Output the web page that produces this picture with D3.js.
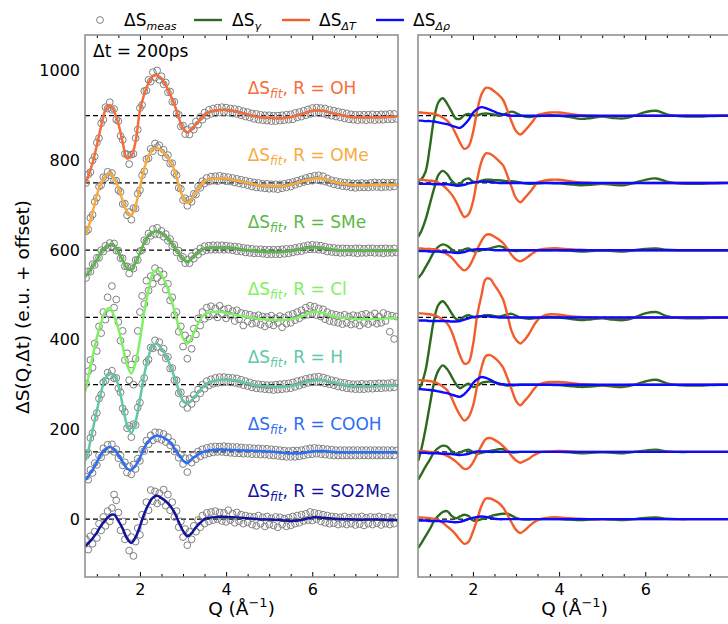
<!DOCTYPE html>
<html>
<head>
<meta charset="utf-8">
<script src="https://cdn.jsdelivr.net/npm/d3@7"></script>
<style>
  body { margin: 0; background: #fff; }
  text { font-family: "DejaVu Sans", sans-serif; }
</style>
</head>
<body>
<svg id="chart" width="728" height="624"></svg>
<script>
// ---- data (relative to each curve's offset) ----
const samples = ['OH', 'OMe', 'SMe', 'Cl', 'H', 'COOH', 'SO2Me'];
const offsets = [900, 750, 600, 450, 300, 150, 0];
const xTicks = [2, 4, 6];
const xMinorTicks = [1, 1.5, 2.5, 3, 3.5, 4.5, 5, 5.5, 6.5, 7, 7.5];
const yTicks = [0, 200, 400, 600, 800, 1000];

// Q grid of the fitted / component curves
const fitQ = [0.73, 0.8, 0.9, 1.0, 1.1, 1.2, 1.3, 1.4, 1.5, 1.6, 1.7, 1.8, 1.9, 2.0, 2.1, 2.2, 2.3, 2.4, 2.5, 2.6,
  2.7, 2.8, 2.9, 3.0, 3.1, 3.2, 3.3, 3.4, 3.5, 3.6, 3.8, 4.0, 4.25, 4.5, 4.75, 5.0, 5.25, 5.5, 5.75, 6.0,
  6.25, 6.5, 6.75, 7.0, 7.25, 7.5, 7.75, 7.97];

const fitOH = [-152, -135, -106, -66, -23, 13, 24, 10, -18, -60, -95, -90, -57, 11, 48, 73, 88, 90, 82, 68,
  48, 25, -4, -28, -37, -30, -19, -8, 2, 8, 12, 13, 9, 3, -3, -5, -6, -3, 3, 11, 11, 5, 0, -4, -4, -4, -3, -2];
const fitOMe = [-116, -100, -66, -27, 0, 15, 22, 10, -10, -40, -64, -73, -50, -10, 32, 60, 75, 78, 72, 63,
  48, 28, -5, -32, -45, -36, -21, -6, 4, 8, 10, 10, 5, 0, -5, -7, -8, -4, 3, 9, 10, 2, -2, -5, -5, -4, -4, -4];
const fitSMe = [-60, -51, -36, -22, -4, 6, 12, 11, -5, -22, -40, -43, -27, -7, 17, 32, 40, 42, 38, 31,
  20, 7, -6, -20, -26, -18, -9, -1, 4, 5, 6, 6, 3, 0, -2, -4, -4, -2, 2, 7, 5, 1, -1, -1, -1, -1, -1, -1];
const fitCl = [-165, -135, -88, -45, -12, 14, 21, 3, -25, -65, -105, -125, -100, -50, 12, 62, 98, 106, 95, 76,
  48, 15, -20, -46, -58, -45, -24, -5, 7, 11, 13, 10, 5, 1, -3, -5, -6, -4, 2, 12, 10, 2, -1, -3, -4, -3, -2, -1];
const fitH = [-170, -148, -102, -58, -16, 14, 25, 20, -2, -46, -90, -108, -82, -33, 22, 63, 88, 91, 80, 66,
  43, 17, -12, -36, -43, -35, -24, -12, -2, 4, 10, 11, 9, 3, -2, -4, -5, -3, 2, 9, 10, 5, 0, -3, -4, -3, -2, -1];
const fitCOOH = [-62, -54, -40, -23, -5, 6, 11, 6, -7, -22, -37, -40, -30, -13, 9, 24, 33, 36, 34, 29,
  22, 8, -6, -19, -25, -16, -9, -3, 1, 3, 5, 5, 4, 3, 2, 1, -1, -3, -3, 1, 2, 0, -1, -1, -1, -1, -1, -1];
const fitSO2Me = [-60, -54, -43, -30, -14, -2, 8, 10, -4, -21, -43, -53, -40, -16, 12, 33, 48, 52, 47, 40,
  30, 15, -6, -26, -38, -31, -18, -8, 0, 3, 5, 5, 4, 2, 0, -1, -2, -4, -2, 4, 3, 1, 0, -1, -1, -1, -2, -2];

// gamma (solvent heating, green), delta T (orange), delta rho (blue)
const gamOH = [-146, -142, -125, -70, -5, 30, 39, 27, 10, -6, -7, 1, 4, 1, 1, 4, 5, 4, 2, 0,
  2, 6, 9, 6, 1, -2, -3, -2, -1, 0, 1, 0, -3, -7, -5, -2, -5, -6, 0, 8, 11, 3, -1, -2, -2, -1, 0, 0];
const dtOH = [7, 7, 6, 5, 4, 1, -4, -11, -22, -40, -60, -74, -68, -38, 12, 48, 62, 61, 54, 46,
  35, 12, -14, -34, -42, -34, -23, -11, 1, 4, 7, 7, 4, 1, 0, -1, -1, -1, 0, 0, 0, 0, 0, 0, 0, 0, 0, 0];
const drOH = [-11, -11, -12, -12, -13, -15, -17, -19, -22, -25, -27, -20, -9, 6, 15, 19, 17, 13, 9, 5,
  3, 1, 0, 0, 0, 0, 0, 0, 0, 0, 0, 0, 0, 0, 0, 0, 0, 0, 0, 0, 0, 0, 0, 0, 0, 0, 0, 0];

const gamOMe = [-120, -108, -82, -47, -12, 18, 27, 20, 6, -3, -2, 7, 10, 3, 2, 5, 7, 7, 6, 6,
  5, 4, 4, 3, 1, -1, -2, -2, -1, 0, 0, -1, -3, -5, -4, -2, -4, -5, 0, 7, 10, 3, -1, -2, -2, -1, 0, 0];
const dtOMe = [7, 7, 6, 5, 4, 1, -5, -14, -25, -40, -60, -76, -70, -42, 8, 48, 66, 65, 58, 49,
  39, 16, -10, -34, -43, -34, -23, -11, 1, 4, 7, 7, 4, 1, 0, -1, -1, -1, 0, 0, 0, 0, 0, 0, 0, 0, 0, 0];
const drOMe = [-2, -2, -2, -2, -3, -3, -3, -3, -4, -6, -6, -4, -1, 1, 2, 3, 3, 2, 1, 0,
  0, 0, 0, 0, 0, 0, 0, 0, 0, 0, 0, 0, 0, 0, 0, 0, 0, 0, 0, 0, 0, 0, 0, 0, 0, 0, 0, 0];

const gamSMe = [-62, -54, -38, -21, -3, 8, 13, 10, 2, -4, -3, 2, 4, -2, -2, 0, 2, 4, 7, 9,
  7, 2, -1, -2, -1, -1, 0, 0, 0, 0, 0, 0, -1, -3, -2, -1, -2, -3, 0, 3, 4, 1, 0, 0, 0, 0, 0, 0];
const dtSMe = [4, 4, 3, 3, 2, 0, -4, -9, -16, -27, -38, -45, -38, -20, 2, 21, 34, 35, 30, 24,
  16, 3, -11, -21, -25, -20, -13, -6, 0, 2, 4, 4, 2, 1, 0, 0, 0, 0, 0, 0, 0, 0, 0, 0, 0, 0, 0, 0];
const drSMe = [-2, -2, -2, -3, -3, -3, -4, -4, -5, -6, -6, -4, -1, 1, 2, 2, 2, 1, 0, 0,
  0, 0, 0, 0, 0, 0, 0, 0, 0, 0, 0, 0, 0, 0, 0, 0, 0, 0, 0, 0, 0, 0, 0, 0, 0, 0, 0, 0];

const gamCl = [-162, -150, -118, -60, -3, 28, 36, 26, 10, -3, -5, 2, 5, 1, 0, 3, 5, 5, 3, 2,
  4, 7, 8, 4, 0, -2, -3, -2, -1, 0, 1, 0, -3, -6, -4, -2, -5, -6, 0, 9, 12, 3, -1, -2, -2, -1, 0, 0];
const dtCl = [9, 9, 8, 7, 5, 1, -5, -13, -30, -57, -85, -103, -100, -62, 5, 50, 86, 86, 72, 58,
  40, 6, -31, -50, -58, -50, -37, -20, -6, 2, 7, 6, 3, 1, 0, -1, -1, -1, 0, 0, 0, 0, 0, 0, 0, 0, 0, 0];
const drCl = [-7, -7, -7, -8, -8, -8, -8, -8, -9, -9, -8, -5, -2, 1, 2, 3, 3, 2, 1, 0,
  0, 0, 0, 0, 0, 0, 0, 0, 0, 0, 0, 0, 0, 0, 0, 0, 0, 0, 0, 0, 0, 0, 0, 0, 0, 0, 0, 0];

const gamH = [-170, -145, -99, -45, 5, 32, 43, 35, 19, 2, -8, -2, 2, -5, -3, 4, 6, 7, 5, 2,
  0, -2, -2, -1, 0, 0, 0, 0, 0, 0, 0, -1, -3, -5, -4, -2, -4, -5, 0, 7, 11, 3, -1, -2, -2, -1, 0, 0];
const dtH = [10, 10, 9, 8, 6, 2, -4, -12, -28, -50, -68, -80, -72, -48, -2, 38, 64, 66, 60, 51,
  38, 15, -11, -36, -46, -36, -25, -12, -1, 3, 6, 6, 4, 1, 0, -1, -1, -1, 0, 0, 0, 0, 0, 0, 0, 0, 0, 0];
const drH = [-9, -10, -11, -12, -13, -15, -17, -19, -22, -25, -27, -21, -11, 3, 12, 17, 15, 11, 6, 2,
  1, 0, 0, 0, 0, 0, 0, 0, 0, 0, 0, 0, 0, 0, 0, 0, 0, 0, 0, 0, 0, 0, 0, 0, 0, 0, 0, 0];

const gamCOOH = [-62, -50, -33, -17, 0, 9, 14, 12, 2, -4, -1, 3, 5, 0, -4, -2, 0, 2, 4, 6,
  6, 2, -1, -1, 0, 0, 0, 0, 0, 0, 0, 0, -1, -3, -2, -1, -2, -3, 0, 3, 5, 1, 0, 0, 0, 0, 0, 0];
const dtCOOH = [2, 2, 1, 0, -1, -3, -5, -9, -14, -21, -30, -38, -36, -24, -5, 14, 29, 31, 27, 21,
  13, 3, -9, -19, -24, -20, -15, -8, -3, 0, 1, 2, 1, 0, 0, 0, 0, 0, 0, 0, 0, 0, 0, 0, 0, 0, 0, 0];
const drCOOH = [-2, -2, -2, -3, -3, -3, -4, -4, -5, -6, -7, -6, -4, -1, 1, 1, 1, 0, 0, 0,
  0, 0, 0, 0, 0, 0, 0, 0, 0, 0, 0, 0, 0, 0, 0, 0, 0, 0, 0, 0, 0, 0, 0, 0, 0, 0, 0, 0];

const gamSO2Me = [-64, -54, -38, -22, -4, 8, 16, 18, 8, 2, 6, 10, 7, -3, -3, 0, 3, 6, 9, 11,
  12, 12, 8, 3, 0, -1, -1, 0, 0, 0, 0, 0, -1, -2, -1, 0, -1, -2, 0, 3, 4, 1, 0, 0, 0, 0, 0, 0];
const dtSO2Me = [4, 4, 3, 2, 1, -2, -8, -16, -24, -34, -46, -55, -50, -28, 0, 30, 46, 46, 42, 36,
  26, 10, -8, -24, -31, -25, -16, -8, -2, 1, 4, 4, 2, 1, 0, 0, 0, 0, 0, 0, 0, 0, 0, 0, 0, 0, 0, 0];
const drSO2Me = [-3, -3, -3, -4, -4, -4, -5, -5, -6, -7, -6, -3, 0, 3, 5, 6, 5, 3, 1, 0,
  0, 0, 0, 0, 0, 0, 0, 0, 0, 0, 0, 0, 0, 0, 0, 0, 0, 0, 0, 0, 0, 0, 0, 0, 0, 0, 0, 0];

// measured points, sampled every 0.05 from Q = 0.75 to 7.95
const measQ = d3.range(75, 800, 5).map(v => v / 100);
const measOH = [-150, -131, -126, -100, -91, -60, -50, -17, -9, 19, 16, 30, 13, 15, -9, -12, -45, -54, -85, -86,
  -108, -87, -85, -50, -31, 17, 24, 55, 56, 80, 76, 97, 85, 101, 80, 88, 70, 74, 52, 54,
  31, 31, 5, 2, -24, -22, -41, -31, -42, -25, -31, -13, -20, -3, -9, 7, 0, 13, 4, 16,
  6, 18, 7, 19, 8, 18, 7, 16, 5, 15, 4, 13, 1, 10, -2, 8, -4, 5, -7, 4,
  -9, 2, -10, 1, -11, 1, -12, 0, -12, 0, -11, 1, -10, 2, -9, 3, -8, 6, -4, 8,
  -2, 11, 1, 14, 4, 17, 6, 18, 6, 17, 5, 16, 2, 13, 0, 11, -2, 9, -4, 7,
  -6, 5, -8, 3, -9, 2, -10, 2, -9, 2, -10, 2, -9, 3, -10, 2, -9, 3, -9, 3,
  -8, 4, -8, 4, -7];
const measOMe = [-108, -104, -78, -71, -42, -33, -8, -5, 13, 11, 25, 17, 22, 5, 5, -16, -20, -47, -46, -72,
  -65, -82, -56, -57, -24, -16, 17, 26, 53, 55, 76, 71, 88, 80, 84, 68, 74, 57, 62, 43,
  44, 22, 17, -11, -13, -38, -34, -51, -37, -42, -24, -26, -8, -11, 4, -1, 11, 3, 14, 5,
  15, 4, 16, 6, 14, 4, 13, 3, 11, 1, 9, -1, 7, -3, 5, -5, 3, -8, 1, -10,
  0, -11, -2, -12, -2, -13, -3, -13, -3, -14, -3, -12, -2, -10, 0, -8, 2, -4, 5, -1,
  8, 2, 11, 4, 14, 5, 16, 7, 17, 5, 15, 3, 10, 0, 6, -3, 4, -5, 2, -7,
  1, -8, 0, -10, -1, -11, -1, -10, 0, -10, -1, -10, 0, -9, 1, -9, 0, -10, 1, -9,
  0, -9, 1, -8, 0];
const measSMe = [-62, -47, -48, -31, -33, -17, -17, 0, -3, 10, 5, 16, 8, 15, -1, -1, -18, -18, -36, -36,
  -52, -38, -41, -22, -22, -2, 0, 22, 20, 37, 32, 47, 36, 50, 35, 43, 30, 36, 21, 25,
  9, 12, -5, -1, -18, -15, -29, -21, -29, -13, -19, -4, -10, 4, -3, 9, 0, 10, 1, 11,
  1, 11, 1, 11, 1, 10, 1, 9, 0, 8, -2, 7, -3, 5, -5, 4, -6, 3, -7, 2,
  -7, 2, -8, 1, -9, 1, -9, 1, -9, 1, -9, 2, -8, 3, -7, 3, -5, 5, -3, 7,
  -2, 9, 1, 11, 2, 12, 2, 11, 1, 10, 0, 8, -3, 6, -4, 5, -5, 4, -6, 4,
  -6, 4, -5, 3, -6, 4, -7, 4, -6, 3, -6, 4, -5, 4, -6, 3, -6, 4, -7, 4,
  -6, 3, -6, 4, -5];
const measCl = [-148, -120, -95, -112, -58, -75, -20, -35, 12, -5, 45, 8, 70, 22, 40, -10, -52, -30, -95, -80,
  -140, -105, -150, -92, -30, 12, 48, 30, 82, 60, 92, 75, 110, 88, 104, 80, 96, 62, 75, 38,
  45, 5, 12, -32, -20, -65, -40, -92, -48, -70, -25, -38, -2, -18, 12, -3, 22, 2, 25, 6,
  20, 0, 26, 8, 18, -2, 20, 4, 14, -8, 16, -4, 10, -18, 8, -9, 6, -14, 3, -12,
  5, -16, 2, -20, 1, -15, 4, -18, -2, -12, 3, -22, 0, -14, 5, -12, 8, -6, 12, -2,
  16, 4, 22, 6, 26, 8, 24, 5, 20, 2, 18, -4, 12, -8, 8, -10, 6, -12, 4, -15,
  6, -12, 2, -16, 5, -14, 3, -18, 6, -12, 8, -15, 4, -10, 9, -14, 2, -12, 10, -8,
  6, -32, 4, -48, 2];
const measH = [-158, -152, -119, -108, -74, -63, -31, -22, 5, 9, 27, 20, 31, 14, 15, -8, -17, -53, -61, -97,
  -92, -117, -88, -90, -51, -40, 2, 15, 50, 56, 83, 81, 99, 84, 95, 73, 80, 59, 62, 36,
  37, 10, 10, -19, -17, -43, -33, -52, -32, -43, -23, -31, -11, -19, 0, -9, 8, -2, 12, 2,
  15, 4, 17, 5, 17, 6, 16, 5, 15, 4, 14, 2, 11, -1, 8, -3, 5, -6, 2, -8,
  1, -9, 0, -10, -1, -11, -1, -12, 0, -11, 1, -10, 2, -9, 3, -8, 5, -5, 8, -2,
  10, 1, 13, 4, 15, 5, 17, 6, 18, 5, 16, 3, 13, 1, 10, -1, 8, -4, 5, -6,
  4, -8, 2, -9, 1, -10, 1, -10, 2, -10, 1, -9, 2, -9, 2, -8, 3, -8, 3, -7,
  3, -7, 4, -6, 3];
const measCOOH = [-55, -62, -40, -47, -25, -29, -8, -12, 8, 0, 16, 5, 17, 0, 6, -14, -8, -30, -23, -46,
  -32, -50, -28, -38, -15, -20, 5, 2, 25, 17, 37, 26, 44, 30, 43, 27, 40, 22, 33, 15,
  22, 1, 8, -13, -6, -27, -14, -45, -14, -24, -6, -16, 1, -10, 6, -6, 9, -3, 11, -1,
  12, 0, 12, 0, 13, -1, 12, -2, 11, -3, 11, -3, 10, -4, 9, -4, 9, -5, 8, -5,
  8, -6, 7, -6, 7, -7, 6, -8, 5, -9, 4, -10, 3, -11, 2, -11, 3, -11, 3, -10,
  4, -8, 6, -6, 8, -5, 9, -4, 8, -5, 7, -6, 6, -7, 5, -8, 4, -8, 4, -8,
  4, -8, 4, -8, 4, -8, 4, -8, 4, -8, 4, -8, 4, -8, 4, -8, 4, -8, 4, -8,
  4, -8, 4, -8, 3];
const measSO2Me = [-45, -68, -38, -55, -28, -42, -10, -25, 5, -15, 18, -5, 25, 55, 42, 15, -25, -5, -45, -30,
  -70, -40, -82, -50, -20, -35, 10, -5, 38, 20, 65, 40, 62, 35, 58, 40, 66, 30, 55, 20,
  38, 5, 18, -18, -5, -40, -22, -58, -28, -45, -15, -28, -2, -18, 8, -10, 14, -5, 16, -2,
  18, 0, 15, -4, 14, -6, 20, -2, 12, -8, 15, -5, 10, -10, 8, -7, 6, -12, 5, -15,
  8, -10, 4, -16, 6, -12, 2, -14, 5, -18, 4, -12, 1, -16, 3, -14, 6, -10, 8, -8,
  10, -4, 12, -2, 16, -3, 14, 0, 12, -5, 10, -8, 8, -10, 6, -9, 5, -12, 4, -10,
  6, -12, 3, -10, 5, -13, 4, -11, 6, -14, 3, -10, 5, -12, 4, -9, 6, -13, 3, -10,
  5, -12, 2, -10, 4];

const fits = [fitOH, fitOMe, fitSMe, fitCl, fitH, fitCOOH, fitSO2Me];
const meas = [measOH, measOMe, measSMe, measCl, measH, measCOOH, measSO2Me];
const gams = [gamOH, gamOMe, gamSMe, gamCl, gamH, gamCOOH, gamSO2Me];
const dts = [dtOH, dtOMe, dtSMe, dtCl, dtH, dtCOOH, dtSO2Me];
const drs = [drOH, drOMe, drSMe, drCl, drH, drCOOH, drSO2Me];

// ---- styles ----
const fitColors = ['#f46d3b', '#f7ab3e', '#5ab846', '#80f064', '#62c7a6', '#2d6cf6', '#12129a'];
const gamColor = '#2d6a1e', dtColor = '#f35d2b', drColor = '#0b0bff';
const measColor = '#7f7f7f';

// ---- layout ----
const svg = d3.select('#chart');
const panelTop = 35, panelBottom = 577;
const panels = [[85, 398], [418, 731]];
const y = d3.scaleLinear().domain([-129, 1080]).range([panelBottom, panelTop]);
const xs = panels.map(p => d3.scaleLinear().domain([0.725, 7.99]).range(p));

const defs = svg.append('defs');
panels.forEach((p, k) => {
  defs.append('clipPath').attr('id', 'clip' + k).append('rect')
    .attr('x', p[0]).attr('y', panelTop)
    .attr('width', p[1] - p[0]).attr('height', panelBottom - panelTop);
});

function curveLine (x, off) {
  return d3.line()
    .x((d, i) => x(fitQ[i]))
    .y(d => y(d + off))
    .curve(d3.curveCatmullRom.alpha(0.5));
}

function baselines (g, x) {
  g.selectAll('line.base').data(offsets).enter().append('line')
    .attr('class', 'base')
    .attr('x1', x.range()[0]).attr('x2', x.range()[1])
    .attr('y1', d => y(d)).attr('y2', d => y(d))
    .attr('stroke', '#000').attr('stroke-width', 1.3)
    .attr('stroke-dasharray', '5,3');
}

// ---- left panel: measured + fit ----
const xL = xs[0];
const gL = svg.append('g').attr('clip-path', 'url(#clip0)');
baselines(gL, xL);

meas.forEach((vals, k) => {
  gL.append('g').selectAll('circle').data(vals).enter().append('circle')
    .attr('cx', (d, i) => xL(measQ[i]))
    .attr('cy', d => y(d + offsets[k]))
    .attr('r', 3.4)
    .attr('fill', 'none')
    .attr('stroke', measColor)
    .attr('stroke-width', 1);
});

fits.forEach((vals, k) => {
  gL.append('path').datum(vals)
    .attr('d', curveLine(xL, offsets[k]))
    .attr('fill', 'none')
    .attr('stroke', fitColors[k])
    .attr('stroke-width', 2.5);
});

// curve labels
samples.forEach((s, k) => {
  const t = svg.append('text')
    .attr('x', xL(4.5)).attr('y', y(offsets[k] + 49))
    .attr('fill', fitColors[k]).style('font-size', '17px');
  t.append('tspan').text('ΔS');
  t.append('tspan').text('fit').style('font-size', '12px').style('font-style', 'italic').attr('dy', 4);
  t.append('tspan').text(', R = ' + s).attr('dy', -4);
});

svg.append('text').attr('x', 93).attr('y', 57).style('font-size', '17px').text('Δt = 200ps');

// ---- right panel: components ----
const xR = xs[1];
const gR = svg.append('g').attr('clip-path', 'url(#clip1)');
baselines(gR, xR);
offsets.forEach((off, k) => {
  [[gams[k], gamColor], [dts[k], dtColor], [drs[k], drColor]].forEach(([vals, c]) => {
    gR.append('path').datum(vals)
      .attr('d', curveLine(xR, off))
      .attr('fill', 'none')
      .attr('stroke', c)
      .attr('stroke-width', 2.4);
  });
});

// ---- axes / frames ----
panels.forEach((p, k) => {
  const x = xs[k];
  const g = svg.append('g');
  g.append('g').attr('transform', `translate(0,${panelBottom})`)
    .call(d3.axisBottom(x).tickValues(xTicks).tickSize(-5).tickPadding(7).tickFormat(d3.format('d')));
  g.append('g').attr('transform', `translate(0,${panelBottom})`)
    .call(d3.axisBottom(x).tickValues(xMinorTicks).tickSize(-3).tickFormat(''));
  g.append('g').attr('transform', `translate(0,${panelTop})`)
    .call(d3.axisTop(x).tickValues(xTicks).tickSize(-5).tickFormat(''));
  g.append('g').attr('transform', `translate(0,${panelTop})`)
    .call(d3.axisTop(x).tickValues(xMinorTicks).tickSize(-3).tickFormat(''));
  if (k === 0) {
    g.append('g').attr('transform', `translate(${p[0]},0)`)
      .call(d3.axisLeft(y).tickValues(yTicks).tickSize(0).tickPadding(5).tickFormat(d3.format('d')));
  }
  g.selectAll('.domain').remove();
  g.selectAll('.tick line').attr('stroke', '#000');
  g.selectAll('.tick text').style('font-size', '16px').attr('fill', '#000')
    .style('font-family', '"DejaVu Sans", sans-serif');
  svg.append('rect')
    .attr('x', p[0]).attr('y', panelTop)
    .attr('width', p[1] - p[0]).attr('height', panelBottom - panelTop)
    .attr('fill', 'none').attr('stroke', '#8a8a8a').attr('stroke-width', 1.5);

  const xl = svg.append('text')
    .attr('x', (p[0] + p[1]) / 2).attr('y', 615)
    .attr('text-anchor', 'middle').style('font-size', '18.5px');
  xl.append('tspan').text('Q (Å');
  xl.append('tspan').text('−1').style('font-size', '13px').attr('dy', -8);
  xl.append('tspan').text(')').attr('dy', 8);
});

svg.append('text')
  .attr('transform', 'translate(29,307) rotate(-90)')
  .attr('text-anchor', 'middle')
  .style('font-size', '18.5px')
  .text('ΔS(Q,Δt) (e.u. + offset)');

// ---- legend ----
const leg = svg.append('g');
leg.append('circle').attr('cx', 100).attr('cy', 20).attr('r', 3.4)
  .attr('fill', 'none').attr('stroke', measColor);
const legendItems = [
  { x: 124, sub: 'meas' },
  { x: 232, sub: 'γ', color: gamColor, lx: 194 },
  { x: 319, sub: 'ΔT', color: dtColor, lx: 282 },
  { x: 413, sub: 'Δρ', color: drColor, lx: 376 }
];
legendItems.forEach(it => {
  if (it.color) {
    leg.append('line').attr('x1', it.lx).attr('x2', it.lx + 28)
      .attr('y1', 20).attr('y2', 20)
      .attr('stroke', it.color).attr('stroke-width', 2.4);
  }
  const t = leg.append('text').attr('x', it.x).attr('y', 26).style('font-size', '17px');
  t.append('tspan').text('ΔS');
  t.append('tspan').text(it.sub).style('font-size', '11px').style('font-style', 'italic').attr('dy', 4);
});
</script>
</body>
</html>
